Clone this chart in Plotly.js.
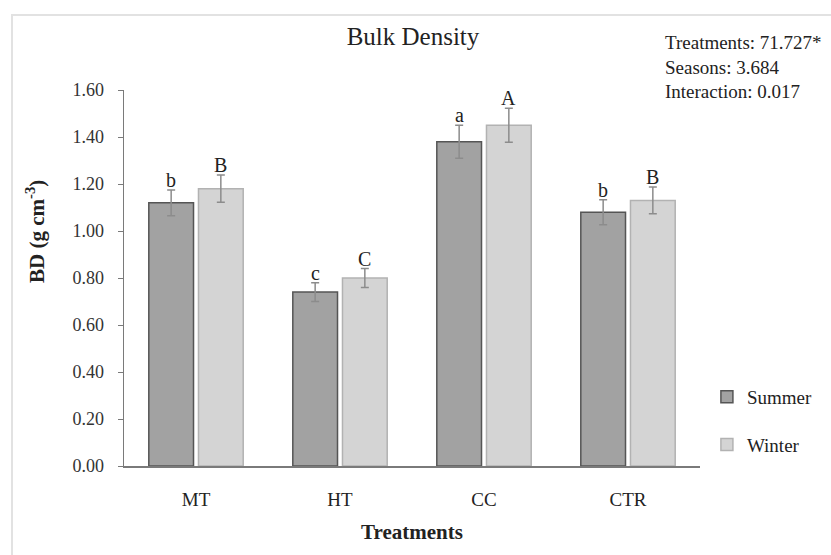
<!DOCTYPE html>
<html>
<head>
<meta charset="utf-8">
<script src="https://cdn.plot.ly/plotly-3.0.1.min.js"></script>
<style>html,body{margin:0;padding:0;background:#fff;}#chart{width:831px;height:555px;}</style>
</head>
<body>
<div id="chart"></div>
<script>
const categories = ["MT", "HT", "CC", "CTR"];
const seriesNames = ["Summer", "Winter"];
const summerValues = [1.12, 0.74, 1.38, 1.08];
const summerErrors = [0.055, 0.04, 0.07, 0.053];
const winterValues = [1.18, 0.80, 1.45, 1.13];
const winterErrors = [0.058, 0.04, 0.072, 0.057];
const summerLetters = ["b", "c", "a", "b"];
const winterLetters = ["B", "C", "A", "B"];
const statsLines = ["Treatments: 71.727*", "Seasons: 3.684", "Interaction: 0.017"];
const yTickVals = [0, 0.2, 0.4, 0.6, 0.8, 1.0, 1.2, 1.4, 1.6];

const FONT = "Liberation Serif, Times New Roman, serif";
const bargap = 0.31, bargroupgap = 0.1;
const slot = (1 - bargap) / 2; // in category units
const offs = [-slot / 2, slot / 2];

const traces = [
  {
    type: "bar", name: seriesNames[0], x: categories, y: summerValues,
    legendgroup: "s",
    marker: {color: "#a2a2a2", line: {color: "#555555", width: 1.5}},
    error_y: {type: "data", array: summerErrors, visible: true, color: "#8c8c8c", thickness: 1.5, width: 4}
  },
  {
    type: "bar", name: seriesNames[1], x: categories, y: winterValues,
    legendgroup: "w",
    marker: {color: "#d4d4d4", line: {color: "#b2b2b2", width: 1.5}},
    error_y: {type: "data", array: winterErrors, visible: true, color: "#8c8c8c", thickness: 1.5, width: 4}
  }
];

const annotations = [];
[[summerValues, summerErrors, summerLetters], [winterValues, winterErrors, winterLetters]].forEach((s, si) => {
  s[0].forEach((v, i) => {
    annotations.push({
      xref: "x", yref: "y", x: i + offs[si], y: v + s[1][i],
      text: s[2][i], showarrow: false, yanchor: "bottom", yshift: -3,
      font: {family: FONT, size: 20, color: "#222"}
    });
  });
});
annotations.push({
  xref: "paper", yref: "paper", x: 0.9358, y: (466 - 30) / 376, xanchor: "left", yanchor: "top",
  align: "left", showarrow: false, text: statsLines.join("<br>"),
  font: {family: FONT, size: 19, color: "#222"}
});
annotations.push({
  xref: "paper", yref: "paper", x: (35 - 124) / 576, y: (466 - 232) / 376,
  xanchor: "center", yanchor: "middle", textangle: -90, showarrow: false,
  text: "<b>BD (g cm<sup>-3</sup>)</b>",
  font: {family: FONT, size: 21, color: "#222"}
});

const layout = {
  width: 831, height: 555,
  margin: {l: 124, r: 131, t: 90, b: 89},
  paper_bgcolor: "#fff", plot_bgcolor: "#fff",
  font: {family: FONT, color: "#222"},
  title: {text: "Bulk Density", font: {family: FONT, size: 25, color: "#222"},
          x: 0.497, xref: "container", xanchor: "center", y: 1 - 36 / 555, yref: "container", yanchor: "middle"},
  barmode: "group", bargap: bargap, bargroupgap: bargroupgap,
  showlegend: true,
  legend: {x: 1.012, xanchor: "left", y: (466 - 421) / 376, yanchor: "middle",
           font: {family: FONT, size: 19, color: "#222"}, tracegroupgap: 20, bgcolor: "rgba(0,0,0,0)"},
  xaxis: {
    type: "category", range: [-0.5, 3.5], showgrid: false, zeroline: false,
    showline: true, linecolor: "#7a7a7a", linewidth: 1.5, ticks: "",
    ticklabelstandoff: 16,
    tickfont: {family: FONT, size: 19, color: "#222"},
    title: {text: "<b>Treatments</b>", font: {family: FONT, size: 21, color: "#222"}, standoff: 15}
  },
  yaxis: {
    range: [0, 1.6], tickvals: yTickVals, tickformat: ".2f", showgrid: false, zeroline: false,
    showline: true, linecolor: "#7a7a7a", linewidth: 1.5,
    ticks: "outside", ticklen: 5, tickcolor: "#7a7a7a", tickwidth: 1,
    ticklabelstandoff: 10,
    tickfont: {family: FONT, size: 18, color: "#333"}
  },
  annotations: annotations,
  shapes: [{
    type: "rect", xref: "paper", yref: "paper",
    x0: (12 - 124) / 576, x1: (840 - 124) / 576,
    y0: (466 - 565) / 376, y1: (466 - 15) / 376,
    line: {color: "#e2e2e2", width: 2}, fillcolor: "rgba(0,0,0,0)", layer: "below"
  }]
};

Plotly.newPlot("chart", traces, layout, {displayModeBar: false, staticPlot: true});
</script>
</body>
</html>
